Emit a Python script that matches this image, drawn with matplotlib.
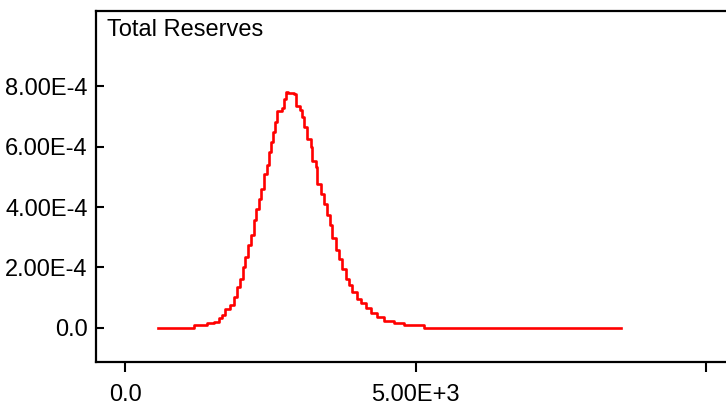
import matplotlib
matplotlib.use("Agg")
import matplotlib.pyplot as plt

# Step curve (x = left edge of each step, y = density)
x_vals = [560, 1178, 1408, 1522, 1609, 1667, 1724, 1810, 1867, 1926, 1983, 2022,
          2069, 2115, 2172, 2212, 2253, 2298, 2345, 2384, 2443, 2471, 2517, 2540,
          2574, 2615, 2702, 2729, 2771, 2810, 2914, 2948, 3005, 3046, 3086, 3132,
          3190, 3219, 3276, 3305, 3362, 3419, 3466, 3522, 3564, 3621, 3677, 3736,
          3793, 3850, 3909, 3983, 4052, 4138, 4224, 4340, 4453, 4626, 4798, 5138,
          8534]
y_vals = [0.0, 8.9e-6, 1.45e-5, 1.98e-5, 3.1e-5, 4.2e-5, 6.2e-5, 7.5e-5, 1.02e-4,
          1.36e-4, 1.63e-4, 2.02e-4, 2.35e-4, 2.73e-4, 3.06e-4, 3.56e-4, 3.95e-4,
          4.28e-4, 4.61e-4, 5.10e-4, 5.38e-4, 5.82e-4, 6.15e-4, 6.48e-4, 6.81e-4,
          7.20e-4, 7.27e-4, 7.58e-4, 7.83e-4, 7.78e-4, 7.75e-4, 7.36e-4, 7.23e-4,
          6.98e-4, 6.65e-4, 6.26e-4, 5.98e-4, 5.54e-4, 5.32e-4, 4.77e-4, 4.44e-4,
          4.11e-4, 3.73e-4, 3.40e-4, 2.96e-4, 2.57e-4, 2.29e-4, 1.96e-4, 1.63e-4,
          1.41e-4, 1.19e-4, 9.7e-5, 8.1e-5, 6.4e-5, 4.8e-5, 3.6e-5, 2.2e-5, 1.5e-5,
          9e-6, 0.0, 0.0]

y_ticks = [0.0, 2e-4, 4e-4, 6e-4, 8e-4]
y_tick_labels = ["0.0", "2.00E-4", "4.00E-4", "6.00E-4", "8.00E-4"]
x_ticks = [0, 5000, 10000]
x_tick_labels = ["0.0", "5.00E+3", ""]
title = "Total Reserves"

plt.rcParams['font.family'] = ['Liberation Sans', 'DejaVu Sans']

W, H = 726, 404
fig = plt.figure(figsize=(W / 100, H / 100), dpi=100)
left_px, right_px, top_px, bottom_px = 96, 740, 11, 362
ax = fig.add_axes([left_px / W, 1 - bottom_px / H,
                   (right_px - left_px) / W, (bottom_px - top_px) / H])

ax.plot(x_vals, y_vals, drawstyle='steps-post', color='#ff0000', lw=1.9)

ax.set_xlim(-500, -500 + (right_px - left_px) * 17.2)
ax.set_ylim(-1.134e-4, 1.050e-3)

ax.set_xticks(x_ticks)
ax.set_xticklabels(x_tick_labels)
ax.set_yticks(y_ticks)
ax.set_yticklabels(y_tick_labels)

ax.tick_params(axis='x', direction='out', length=7.5, width=1.5, pad=8,
               labelsize=17, colors='black')
ax.tick_params(axis='y', direction='in', length=6, width=1.5, pad=6,
               labelsize=17, colors='black')

for s in ['left', 'bottom', 'top', 'right']:
    ax.spines[s].set_linewidth(1.6)
    ax.spines[s].set_color('black')

ax.text((107 - left_px) / (right_px - left_px), 1 - (19 - top_px) / (bottom_px - top_px),
        title, transform=ax.transAxes, ha='left', va='top', fontsize=17)

fig.savefig("out.png", dpi=100)
